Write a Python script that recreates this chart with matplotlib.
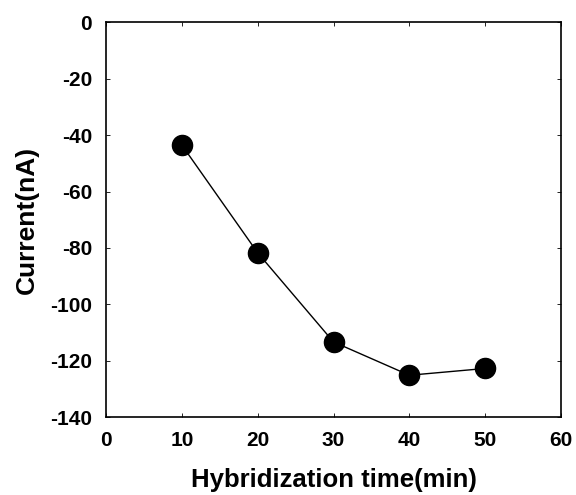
import matplotlib
matplotlib.use('Agg')
import matplotlib.pyplot as plt

# data
hyb_time = [10, 20, 30, 40, 50]
current_na = [-43.5, -81.7, -113.3, -125.1, -122.7]
x_ticks = [0, 10, 20, 30, 40, 50, 60]
y_ticks = [0, -20, -40, -60, -80, -100, -120, -140]

plt.rcParams['font.family'] = ['Liberation Sans', 'DejaVu Sans']
plt.rcParams['font.weight'] = 'bold'
plt.rcParams['axes.unicode_minus'] = False

fig = plt.figure(figsize=(5.76, 4.95), dpi=100)
ax = fig.add_axes([0.184, 0.157, 0.790, 0.798])

ax.plot(hyb_time, current_na, color='black', linewidth=1.0,
        marker='o', markersize=14.5, markerfacecolor='black')

ax.set_xlim(0, 60)
ax.set_ylim(-140, 0)
ax.set_xticks(x_ticks)
ax.set_yticks(y_ticks)
ax.tick_params(direction='in', length=3, width=0.6, labelsize=15,
               top=True, right=True)
ax.tick_params(axis='x', pad=10)
ax.tick_params(axis='y', pad=10)
for lab in ax.get_xticklabels() + ax.get_yticklabels():
    lab.set_fontweight('bold')
for sp in ax.spines.values():
    sp.set_linewidth(1.2)

ax.set_xlabel('Hybridization time(min)', fontsize=18.5, fontweight='bold', labelpad=13)
ax.set_ylabel('Current(nA)', fontsize=19, fontweight='bold', labelpad=8)

fig.savefig('out.png', dpi=100)
